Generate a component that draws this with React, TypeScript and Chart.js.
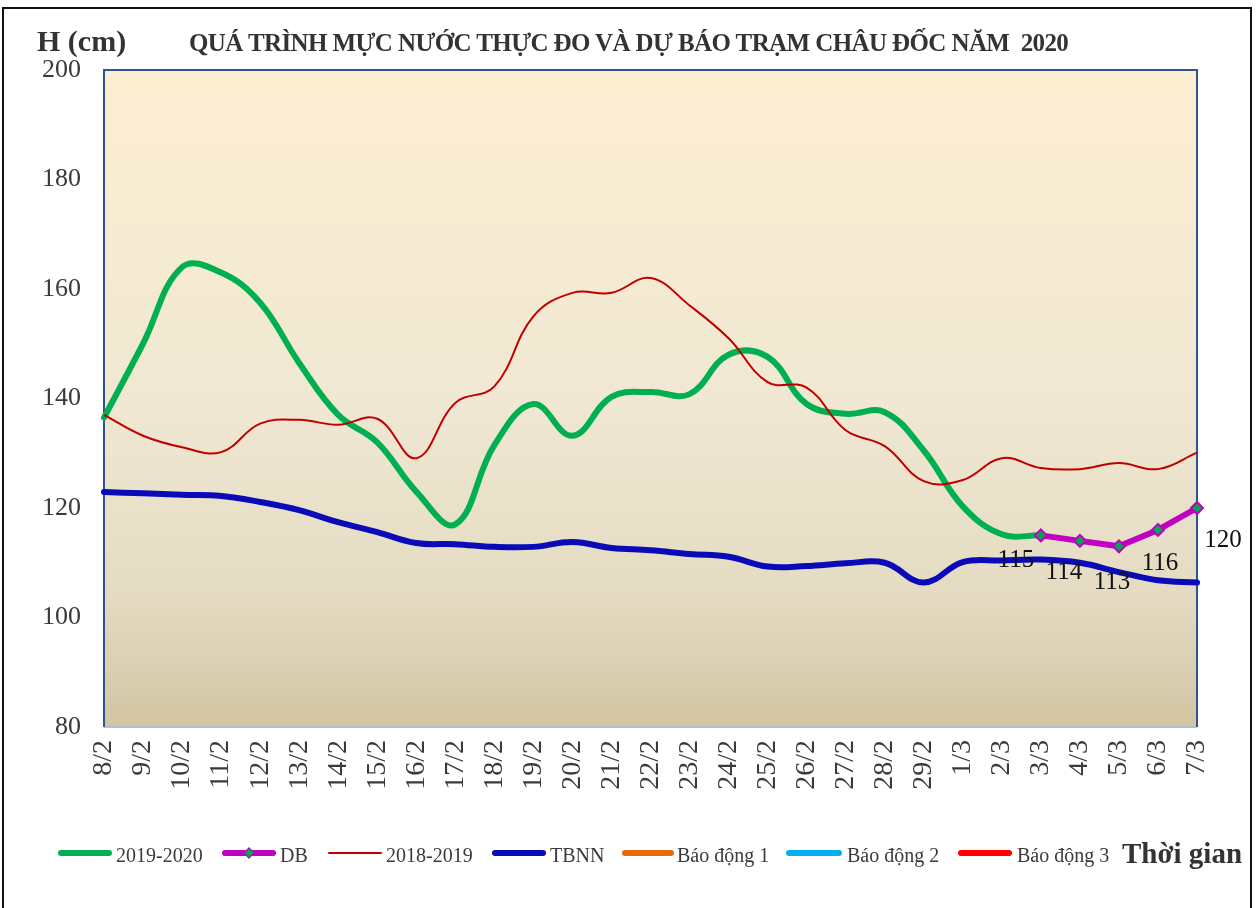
import React, { useEffect, useRef } from "react";
import { Chart, registerables } from "chart.js";

Chart.register(...registerables);

const FONT = '"Liberation Serif", "Times New Roman", serif';

const CATEGORIES = [
  "8/2", "9/2", "10/2", "11/2", "12/2", "13/2", "14/2", "15/2", "16/2", "17/2",
  "18/2", "19/2", "20/2", "21/2", "22/2", "23/2", "24/2", "25/2", "26/2", "27/2",
  "28/2", "29/2", "1/3", "2/3", "3/3", "4/3", "5/3", "6/3", "7/3",
];

const Y_TICKS = [80, 100, 120, 140, 160, 180, 200];

const SERIES_2019_2020 = [
  136.5, 150, 164, 163, 157.5, 146.5, 137, 132, 123, 117,
  131.5, 139, 133.2, 140.3, 141.2, 140.8, 148, 147.6, 139, 137.2,
  137.5, 130.5, 120.3, 115.2, 115, null, null, null, null,
];

const SERIES_DB = [
  null, null, null, null, null, null, null, null, null, null,
  null, null, null, null, null, null, null, null, null, null,
  null, null, null, null, 115, 114, 113, 116, 120,
];

const SERIES_2018_2019 = [
  137, 133.2, 131.1, 130.2, 135.4, 136.1, 135.2, 136.3, 129.1, 139.2,
  142.2, 155, 159.3, 159.3, 162, 157, 151, 143, 142, 134.2,
  131.3, 124.9, 125.1, 129.1, 127.3, 127.1, 128.2, 127.1, 130.1,
];

const SERIES_TBNN = [
  122.9, 122.7, 122.4, 122.2, 121.1, 119.6, 117.4, 115.6, 113.6, 113.4,
  112.9, 112.9, 113.8, 112.7, 112.3, 111.6, 111.1, 109.3, 109.4, 109.9,
  110, 106.4, 110.1, 110.4, 110.6, 110, 108.3, 106.8, 106.4,
];

const SERIES_BD1: (number | null)[] = [];
const SERIES_BD2: (number | null)[] = [];
const SERIES_BD3: (number | null)[] = [];

const DB_LABEL_OFFSETS = [
  [-25, 25],
  [-16, 32],
  [-7, 36],
  [2, 34],
  [26, 32],
];

const COLORS = {
  green: "#00B050",
  magenta: "#C000C0",
  dbMarker: "#00A651",
  red: "#C00000",
  blue: "#0A0AB8",
  bd1: "#E36C09",
  bd2: "#00B0F0",
  bd3: "#FF0000",
  text: "#3A3A3A",
};

const plotBackground = {
  id: "plotBackground",
  beforeDatasetsDraw(chart: any) {
    const { ctx, chartArea: a } = chart;
    ctx.save();
    const g = ctx.createLinearGradient(0, a.top, 0, a.bottom);
    g.addColorStop(0, "#FDEED1");
    g.addColorStop(0.5, "#F0E8D3");
    g.addColorStop(0.8, "#E4DBC2");
    g.addColorStop(1, "#D2C5A2");
    ctx.fillStyle = g;
    ctx.fillRect(a.left, a.top, a.right - a.left, a.bottom - a.top);
    ctx.lineWidth = 2;
    ctx.strokeStyle = "#B3C0D4";
    ctx.beginPath();
    ctx.moveTo(a.left, a.bottom);
    ctx.lineTo(a.right, a.bottom);
    ctx.stroke();
    ctx.strokeStyle = "#2F5496";
    ctx.beginPath();
    ctx.moveTo(a.left, a.bottom);
    ctx.lineTo(a.left, a.top);
    ctx.lineTo(a.right, a.top);
    ctx.lineTo(a.right, a.bottom);
    ctx.stroke();
    ctx.restore();
  },
};

const dbLabels = {
  id: "dbLabels",
  afterDatasetsDraw(chart: any) {
    const idx = chart.data.datasets.findIndex((d: any) => d.label === "DB");
    if (idx < 0) return;
    const meta = chart.getDatasetMeta(idx);
    const { ctx } = chart;
    ctx.save();
    ctx.font = `25px ${FONT}`;
    ctx.fillStyle = "#111";
    ctx.textAlign = "center";
    ctx.textBaseline = "middle";
    let k = 0;
    meta.data.forEach((pt: any, i: number) => {
      const v = SERIES_DB[i];
      if (v == null) return;
      const off = DB_LABEL_OFFSETS[k++] || [0, 30];
      ctx.fillText(String(v), pt.x + off[0], pt.y + off[1]);
    });
    ctx.restore();
  },
};

const LEGEND = [
  { label: "2019-2020", color: COLORS.green, width: 6, x0: 58, x1: 112, tx: 116, marker: false },
  { label: "DB", color: COLORS.magenta, width: 6, x0: 222, x1: 276, tx: 280, marker: true },
  { label: "2018-2019", color: COLORS.red, width: 2, x0: 328, x1: 382, tx: 386, marker: false },
  { label: "TBNN", color: COLORS.blue, width: 6, x0: 492, x1: 546, tx: 550, marker: false },
  { label: "Báo động 1", color: COLORS.bd1, width: 6, x0: 622, x1: 674, tx: 677, marker: false },
  { label: "Báo động 2", color: COLORS.bd2, width: 6, x0: 786, x1: 842, tx: 847, marker: false },
  { label: "Báo động 3", color: COLORS.bd3, width: 6, x0: 958, x1: 1012, tx: 1017, marker: false },
];

export default function App() {
  const canvasRef = useRef<HTMLCanvasElement | null>(null);

  useEffect(() => {
    const canvas = canvasRef.current;
    if (!canvas) return;
    const smooth = { tension: 0.4, cubicInterpolationMode: "default" as const };
    const chart = new Chart(canvas, {
      type: "line",
      data: {
        labels: CATEGORIES,
        datasets: [
          {
            label: "2019-2020",
            data: SERIES_2019_2020,
            borderColor: COLORS.green,
            backgroundColor: COLORS.green,
            borderWidth: 6,
            pointRadius: 0,
            borderCapStyle: "round",
            borderJoinStyle: "round",
            clip: false,
            order: 2,
            ...smooth,
          },
          {
            label: "DB",
            data: SERIES_DB,
            borderColor: COLORS.magenta,
            backgroundColor: COLORS.dbMarker,
            borderWidth: 6,
            pointStyle: "rectRot",
            pointRadius: 6,
            pointBorderWidth: 2,
            pointBorderColor: COLORS.magenta,
            pointBackgroundColor: COLORS.dbMarker,
            borderJoinStyle: "round",
            borderCapStyle: "round",
            tension: 0,
            clip: false,
            order: 0,
          },
          {
            label: "2018-2019",
            data: SERIES_2018_2019,
            borderColor: COLORS.red,
            backgroundColor: COLORS.red,
            borderWidth: 2,
            pointRadius: 0,
            clip: false,
            order: 1,
            ...smooth,
          },
          {
            label: "TBNN",
            data: SERIES_TBNN,
            borderColor: COLORS.blue,
            backgroundColor: COLORS.blue,
            borderWidth: 6,
            pointRadius: 0,
            borderCapStyle: "round",
            clip: false,
            order: 3,
            ...smooth,
          },
          { label: "Báo động 1", data: SERIES_BD1, borderColor: COLORS.bd1, borderWidth: 6, pointRadius: 0, order: 4 },
          { label: "Báo động 2", data: SERIES_BD2, borderColor: COLORS.bd2, borderWidth: 6, pointRadius: 0, order: 5 },
          { label: "Báo động 3", data: SERIES_BD3, borderColor: COLORS.bd3, borderWidth: 6, pointRadius: 0, order: 6 },
        ],
      },
      options: {
        responsive: false,
        animation: false,
        spanGaps: false,
        layout: { padding: { top: 70, right: 62, bottom: 0, left: 0 } },
        plugins: {
          legend: { display: false },
          title: { display: false },
          tooltip: { enabled: false },
        },
        scales: {
          x: {
            type: "category",
            offset: false,
            grid: { display: false, drawTicks: false },
            border: { display: false },
            ticks: {
              autoSkip: false,
              maxRotation: 90,
              minRotation: 90,
              padding: 13,
              color: COLORS.text,
              font: { family: FONT, size: 28 },
            },
            afterFit(scale: any) {
              scale.height = 181;
            },
          },
          y: {
            min: 80,
            max: 200,
            grid: { display: false, drawTicks: false },
            border: { display: false },
            afterBuildTicks(scale: any) {
              scale.ticks = Y_TICKS.map((v) => ({ value: v }));
            },
            ticks: {
              padding: 23,
              color: COLORS.text,
              font: { family: FONT, size: 26 },
            },
            afterFit(scale: any) {
              scale.width = 104;
            },
          },
        },
      },
      plugins: [plotBackground, dbLabels],
    });
    return () => chart.destroy();
  }, []);

  return (
    <div
      style={{
        position: "fixed",
        left: 0,
        top: 0,
        width: 1259,
        height: 908,
        background: "#fff",
        overflow: "hidden",
        fontFamily: FONT,
        color: COLORS.text,
      }}
    >
      <div
        style={{
          position: "absolute",
          left: 2,
          top: 7,
          width: 1250,
          height: 940,
          border: "2px solid #111",
          boxSizing: "border-box",
        }}
      />
      <canvas
        ref={canvasRef}
        width={1259}
        height={908}
        style={{ position: "absolute", left: 0, top: 0 }}
      />
      <div
        style={{
          position: "absolute",
          left: 37,
          top: 26,
          fontSize: 30,
          lineHeight: "30px",
          fontWeight: "bold",
          whiteSpace: "nowrap",
          color: "#333",
        }}
      >
        H (cm)
      </div>
      <div
        style={{
          position: "absolute",
          left: 189,
          top: 30,
          fontSize: 25,
          lineHeight: "25px",
          fontWeight: "bold",
          letterSpacing: -0.6,
          whiteSpace: "nowrap",
          color: "#333",
        }}
      >
        QUÁ TRÌNH MỰC NƯỚC THỰC ĐO VÀ DỰ BÁO TRẠM CHÂU ĐỐC NĂM&nbsp; 2020
      </div>
      {LEGEND.map((item) => (
        <React.Fragment key={item.label}>
          <div
            style={{
              position: "absolute",
              left: item.x0,
              top: 853 - item.width / 2,
              width: item.x1 - item.x0,
              height: item.width,
              borderRadius: item.width / 2,
              background: item.color,
            }}
          />
          {item.marker ? (
            <div
              style={{
                position: "absolute",
                left: (item.x0 + item.x1) / 2 - 4,
                top: 849,
                width: 8,
                height: 8,
                boxSizing: "border-box",
                border: `1px solid ${COLORS.magenta}`,
                background: COLORS.dbMarker,
                transform: "rotate(45deg)",
              }}
            />
          ) : null}
          <div
            style={{
              position: "absolute",
              left: item.tx,
              top: 845,
              fontSize: 20,
              lineHeight: "20px",
              whiteSpace: "nowrap",
            }}
          >
            {item.label}
          </div>
        </React.Fragment>
      ))}
      <div
        style={{
          position: "absolute",
          left: 1122,
          top: 839,
          fontSize: 29,
          lineHeight: "29px",
          fontWeight: "bold",
          whiteSpace: "nowrap",
          color: "#333",
        }}
      >
        Thời gian
      </div>
    </div>
  );
}
